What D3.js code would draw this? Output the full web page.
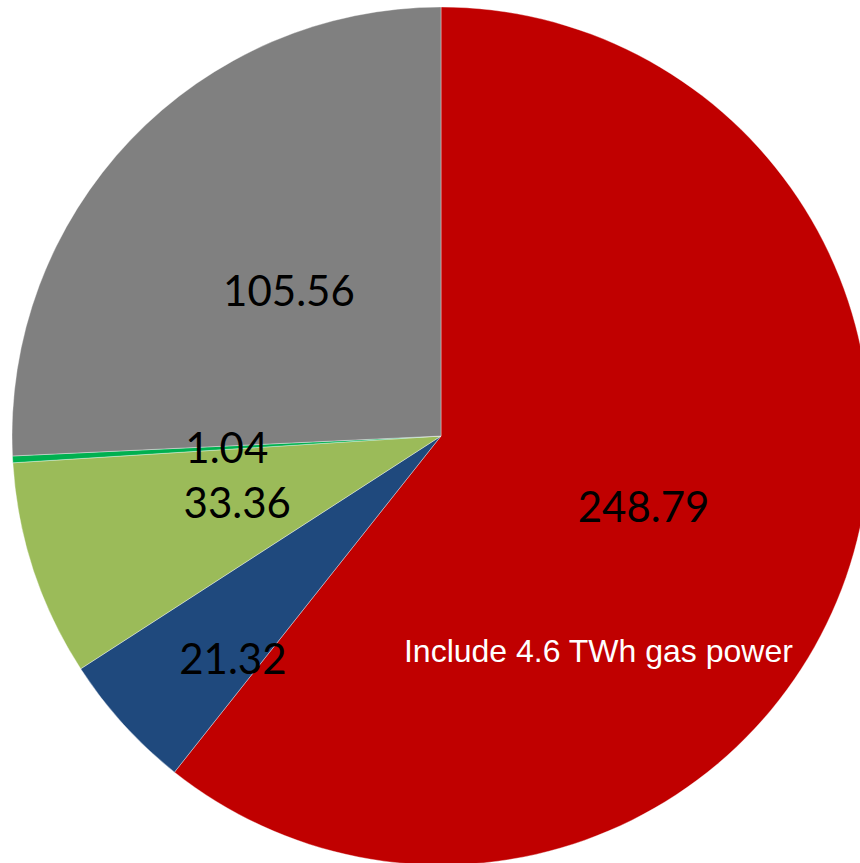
<!DOCTYPE html>
<html>
<head>
<meta charset="utf-8">
<script src="https://cdn.jsdelivr.net/npm/d3@7/dist/d3.min.js"></script>
<style>
  html, body { margin: 0; padding: 0; background: #fff; }
  svg { display: block; }
</style>
</head>
<body>
<div id="chart"></div>
<script>
// Electricity generation by source (TWh)
const categories = ["Thermal", "Hydro", "Wind", "Solar", "Other"];
const values = [248.79, 21.32, 33.36, 1.04, 105.56];
const labels = ["248.79", "21.32", "33.36", "1.04", "105.56"];
const colors = ["#C00000", "#1F497D", "#9BBB59", "#00B050", "#808080"];
const note = "Include 4.6 TWh gas power";

const width = 860, height = 863;
const cx = 441, cy = 436, radius = 429;

// label placement: distance from centre (share of radius) and
// position along the slice's sweep (0 = start, 1 = end)
const labelRadius = [0.5, 0.71, 0.5, 0.5, 0.49];
const labelSweep = [0.5, 0.25, 0.5, 0.5, 0.5];

const svg = d3.select("#chart").append("svg")
  .attr("width", width).attr("height", height);

const g = svg.append("g").attr("transform", `translate(${cx},${cy})`);

const pie = d3.pie().sort(null).value(d => d)
  .startAngle(0).endAngle(2 * Math.PI);
const arcs = pie(values);

const arc = d3.arc().innerRadius(0).outerRadius(radius);

g.selectAll("path.slice")
  .data(arcs)
  .enter().append("path")
  .attr("class", "slice")
  .attr("d", arc)
  .attr("fill", (d, i) => colors[i])
  .attr("stroke", "#ffffff")
  .attr("stroke-opacity", 0.45)
  .attr("stroke-width", 0.8);

function polar(d, sweep, share) {
  const a = d.startAngle + (d.endAngle - d.startAngle) * sweep;
  const r = radius * share;
  return [r * Math.sin(a), -r * Math.cos(a)];
}

g.selectAll("text.value")
  .data(arcs)
  .enter().append("text")
  .attr("class", "value")
  .attr("transform", (d, i) => `translate(${polar(d, labelSweep[i], labelRadius[i])})`)
  .attr("text-anchor", "middle")
  .attr("dy", "0.36em")
  .style("font-family", "Lato, 'Open Sans', sans-serif")
  .style("font-size", "42px")
  .attr("fill", "#000")
  .text((d, i) => labels[i]);

// note inside the thermal slice
const notePos = polar(arcs[0], 0.658, 0.62);
g.append("text")
  .attr("x", notePos[0])
  .attr("y", notePos[1])
  .attr("text-anchor", "middle")
  .attr("dy", "0.35em")
  .style("font-family", "'Liberation Sans', Arial, sans-serif")
  .style("font-size", "32px")
  .attr("fill", "#fff")
  .text(note);
</script>
</body>
</html>
